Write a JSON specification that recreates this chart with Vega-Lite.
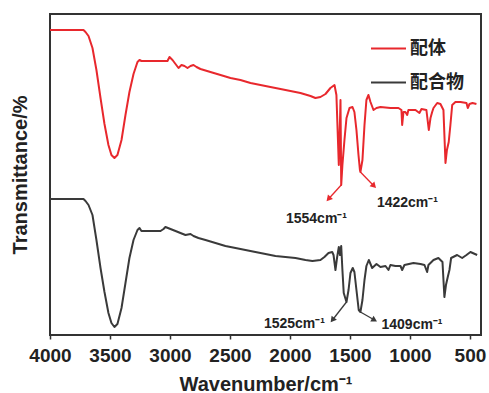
{
  "$schema": "https://vega.github.io/schema/vega-lite/v6.json",
  "width": 431,
  "height": 321,
  "autosize": {"type": "none"},
  "padding": {"left": 50, "top": 14, "right": 8, "bottom": 58},
  "background": "white",
  "config": {
    "view": {"stroke": "#333333", "strokeWidth": 2},
    "font": "Liberation Sans"
  },
  "datasets": {
    "ir": [
      {"series":"配体","wavenumber":4000,"transmittance":305},
      {"series":"配体","wavenumber":3721,"transmittance":305},
      {"series":"配体","wavenumber":3704,"transmittance":303},
      {"series":"配体","wavenumber":3679,"transmittance":299},
      {"series":"配体","wavenumber":3646,"transmittance":287},
      {"series":"配体","wavenumber":3613,"transmittance":265},
      {"series":"配体","wavenumber":3579,"transmittance":237},
      {"series":"配体","wavenumber":3546,"transmittance":211},
      {"series":"配体","wavenumber":3513,"transmittance":190},
      {"series":"配体","wavenumber":3488,"transmittance":180},
      {"series":"配体","wavenumber":3463,"transmittance":177},
      {"series":"配体","wavenumber":3438,"transmittance":180},
      {"series":"配体","wavenumber":3404,"transmittance":195},
      {"series":"配体","wavenumber":3371,"transmittance":220},
      {"series":"配体","wavenumber":3338,"transmittance":243},
      {"series":"配体","wavenumber":3304,"transmittance":261},
      {"series":"配体","wavenumber":3271,"transmittance":273},
      {"series":"配体","wavenumber":3254,"transmittance":275},
      {"series":"配体","wavenumber":3238,"transmittance":274},
      {"series":"配体","wavenumber":3163,"transmittance":274},
      {"series":"配体","wavenumber":3079,"transmittance":274},
      {"series":"配体","wavenumber":3021,"transmittance":274},
      {"series":"配体","wavenumber":3004,"transmittance":278},
      {"series":"配体","wavenumber":2979,"transmittance":275},
      {"series":"配体","wavenumber":2954,"transmittance":271},
      {"series":"配体","wavenumber":2929,"transmittance":267},
      {"series":"配体","wavenumber":2904,"transmittance":270},
      {"series":"配体","wavenumber":2879,"transmittance":269},
      {"series":"配体","wavenumber":2854,"transmittance":267},
      {"series":"配体","wavenumber":2829,"transmittance":269},
      {"series":"配体","wavenumber":2804,"transmittance":270},
      {"series":"配体","wavenumber":2779,"transmittance":268},
      {"series":"配体","wavenumber":2746,"transmittance":266},
      {"series":"配体","wavenumber":2663,"transmittance":263},
      {"series":"配体","wavenumber":2579,"transmittance":260},
      {"series":"配体","wavenumber":2496,"transmittance":257},
      {"series":"配体","wavenumber":2413,"transmittance":255},
      {"series":"配体","wavenumber":2329,"transmittance":252},
      {"series":"配体","wavenumber":2246,"transmittance":250},
      {"series":"配体","wavenumber":2163,"transmittance":248},
      {"series":"配体","wavenumber":2079,"transmittance":246},
      {"series":"配体","wavenumber":1996,"transmittance":244},
      {"series":"配体","wavenumber":1913,"transmittance":242},
      {"series":"配体","wavenumber":1829,"transmittance":239},
      {"series":"配体","wavenumber":1788,"transmittance":237},
      {"series":"配体","wavenumber":1746,"transmittance":238},
      {"series":"配体","wavenumber":1704,"transmittance":241},
      {"series":"配体","wavenumber":1663,"transmittance":247},
      {"series":"配体","wavenumber":1629,"transmittance":250},
      {"series":"配体","wavenumber":1613,"transmittance":240},
      {"series":"配体","wavenumber":1593,"transmittance":170},
      {"series":"配体","wavenumber":1583,"transmittance":215},
      {"series":"配体","wavenumber":1579,"transmittance":235},
      {"series":"配体","wavenumber":1573,"transmittance":150},
      {"series":"配体","wavenumber":1563,"transmittance":170},
      {"series":"配体","wavenumber":1546,"transmittance":195},
      {"series":"配体","wavenumber":1529,"transmittance":217},
      {"series":"配体","wavenumber":1504,"transmittance":227},
      {"series":"配体","wavenumber":1479,"transmittance":228},
      {"series":"配体","wavenumber":1463,"transmittance":223},
      {"series":"配体","wavenumber":1446,"transmittance":205},
      {"series":"配体","wavenumber":1429,"transmittance":180},
      {"series":"配体","wavenumber":1417,"transmittance":165},
      {"series":"配体","wavenumber":1413,"transmittance":163},
      {"series":"配体","wavenumber":1396,"transmittance":175},
      {"series":"配体","wavenumber":1379,"transmittance":210},
      {"series":"配体","wavenumber":1363,"transmittance":235},
      {"series":"配体","wavenumber":1346,"transmittance":240},
      {"series":"配体","wavenumber":1329,"transmittance":233},
      {"series":"配体","wavenumber":1304,"transmittance":225},
      {"series":"配体","wavenumber":1279,"transmittance":227},
      {"series":"配体","wavenumber":1246,"transmittance":228},
      {"series":"配体","wavenumber":1163,"transmittance":227},
      {"series":"配体","wavenumber":1096,"transmittance":227},
      {"series":"配体","wavenumber":1071,"transmittance":225},
      {"series":"配体","wavenumber":1065,"transmittance":210},
      {"series":"配体","wavenumber":1054,"transmittance":223},
      {"series":"配体","wavenumber":1038,"transmittance":223},
      {"series":"配体","wavenumber":1023,"transmittance":220},
      {"series":"配体","wavenumber":1013,"transmittance":225},
      {"series":"配体","wavenumber":954,"transmittance":225},
      {"series":"配体","wavenumber":921,"transmittance":222},
      {"series":"配体","wavenumber":904,"transmittance":226},
      {"series":"配体","wavenumber":863,"transmittance":225},
      {"series":"配体","wavenumber":843,"transmittance":205},
      {"series":"配体","wavenumber":829,"transmittance":217},
      {"series":"配体","wavenumber":815,"transmittance":223},
      {"series":"配体","wavenumber":804,"transmittance":227},
      {"series":"配体","wavenumber":773,"transmittance":232},
      {"series":"配体","wavenumber":746,"transmittance":231},
      {"series":"配体","wavenumber":721,"transmittance":225},
      {"series":"配体","wavenumber":713,"transmittance":200},
      {"series":"配体","wavenumber":704,"transmittance":172},
      {"series":"配体","wavenumber":692,"transmittance":185},
      {"series":"配体","wavenumber":677,"transmittance":193},
      {"series":"配体","wavenumber":663,"transmittance":210},
      {"series":"配体","wavenumber":648,"transmittance":230},
      {"series":"配体","wavenumber":621,"transmittance":233},
      {"series":"配体","wavenumber":579,"transmittance":233},
      {"series":"配体","wavenumber":529,"transmittance":232},
      {"series":"配体","wavenumber":518,"transmittance":227},
      {"series":"配体","wavenumber":504,"transmittance":231},
      {"series":"配体","wavenumber":479,"transmittance":232},
      {"series":"配体","wavenumber":446,"transmittance":231},
      {"series":"配合物","wavenumber":4000,"transmittance":136},
      {"series":"配合物","wavenumber":3721,"transmittance":136},
      {"series":"配合物","wavenumber":3704,"transmittance":134},
      {"series":"配合物","wavenumber":3679,"transmittance":130},
      {"series":"配合物","wavenumber":3646,"transmittance":120},
      {"series":"配合物","wavenumber":3613,"transmittance":95},
      {"series":"配合物","wavenumber":3579,"transmittance":67},
      {"series":"配合物","wavenumber":3546,"transmittance":43},
      {"series":"配合物","wavenumber":3513,"transmittance":22},
      {"series":"配合物","wavenumber":3488,"transmittance":12},
      {"series":"配合物","wavenumber":3463,"transmittance":8},
      {"series":"配合物","wavenumber":3438,"transmittance":11},
      {"series":"配合物","wavenumber":3404,"transmittance":27},
      {"series":"配合物","wavenumber":3371,"transmittance":52},
      {"series":"配合物","wavenumber":3338,"transmittance":77},
      {"series":"配合物","wavenumber":3304,"transmittance":95},
      {"series":"配合物","wavenumber":3271,"transmittance":105},
      {"series":"配合物","wavenumber":3254,"transmittance":107},
      {"series":"配合物","wavenumber":3238,"transmittance":104},
      {"series":"配合物","wavenumber":3163,"transmittance":104},
      {"series":"配合物","wavenumber":3079,"transmittance":104},
      {"series":"配合物","wavenumber":3054,"transmittance":106},
      {"series":"配合物","wavenumber":3038,"transmittance":108},
      {"series":"配合物","wavenumber":2996,"transmittance":106},
      {"series":"配合物","wavenumber":2954,"transmittance":104},
      {"series":"配合物","wavenumber":2913,"transmittance":102},
      {"series":"配合物","wavenumber":2871,"transmittance":100},
      {"series":"配合物","wavenumber":2829,"transmittance":101},
      {"series":"配合物","wavenumber":2804,"transmittance":99},
      {"series":"配合物","wavenumber":2763,"transmittance":97},
      {"series":"配合物","wavenumber":2704,"transmittance":95},
      {"series":"配合物","wavenumber":2621,"transmittance":92},
      {"series":"配合物","wavenumber":2538,"transmittance":89},
      {"series":"配合物","wavenumber":2454,"transmittance":87},
      {"series":"配合物","wavenumber":2371,"transmittance":85},
      {"series":"配合物","wavenumber":2288,"transmittance":83},
      {"series":"配合物","wavenumber":2204,"transmittance":81},
      {"series":"配合物","wavenumber":2121,"transmittance":79},
      {"series":"配合物","wavenumber":2038,"transmittance":78},
      {"series":"配合物","wavenumber":1954,"transmittance":77},
      {"series":"配合物","wavenumber":1871,"transmittance":75},
      {"series":"配合物","wavenumber":1813,"transmittance":74},
      {"series":"配合物","wavenumber":1746,"transmittance":75},
      {"series":"配合物","wavenumber":1713,"transmittance":78},
      {"series":"配合物","wavenumber":1679,"transmittance":82},
      {"series":"配合物","wavenumber":1648,"transmittance":83},
      {"series":"配合物","wavenumber":1637,"transmittance":80},
      {"series":"配合物","wavenumber":1621,"transmittance":65},
      {"series":"配合物","wavenumber":1608,"transmittance":77},
      {"series":"配合物","wavenumber":1593,"transmittance":88},
      {"series":"配合物","wavenumber":1583,"transmittance":80},
      {"series":"配合物","wavenumber":1573,"transmittance":89},
      {"series":"配合物","wavenumber":1563,"transmittance":65},
      {"series":"配合物","wavenumber":1552,"transmittance":42},
      {"series":"配合物","wavenumber":1529,"transmittance":33},
      {"series":"配合物","wavenumber":1512,"transmittance":45},
      {"series":"配合物","wavenumber":1496,"transmittance":62},
      {"series":"配合物","wavenumber":1477,"transmittance":67},
      {"series":"配合物","wavenumber":1463,"transmittance":63},
      {"series":"配合物","wavenumber":1446,"transmittance":45},
      {"series":"配合物","wavenumber":1427,"transmittance":25},
      {"series":"配合物","wavenumber":1413,"transmittance":23},
      {"series":"配合物","wavenumber":1396,"transmittance":35},
      {"series":"配合物","wavenumber":1379,"transmittance":55},
      {"series":"配合物","wavenumber":1363,"transmittance":69},
      {"series":"配合物","wavenumber":1343,"transmittance":75},
      {"series":"配合物","wavenumber":1329,"transmittance":71},
      {"series":"配合物","wavenumber":1315,"transmittance":67},
      {"series":"配合物","wavenumber":1279,"transmittance":71},
      {"series":"配合物","wavenumber":1246,"transmittance":68},
      {"series":"配合物","wavenumber":1204,"transmittance":69},
      {"series":"配合物","wavenumber":1179,"transmittance":65},
      {"series":"配合物","wavenumber":1163,"transmittance":70},
      {"series":"配合物","wavenumber":1121,"transmittance":69},
      {"series":"配合物","wavenumber":1079,"transmittance":69},
      {"series":"配合物","wavenumber":1065,"transmittance":65},
      {"series":"配合物","wavenumber":1046,"transmittance":70},
      {"series":"配合物","wavenumber":971,"transmittance":72},
      {"series":"配合物","wavenumber":912,"transmittance":71},
      {"series":"配合物","wavenumber":879,"transmittance":70},
      {"series":"配合物","wavenumber":857,"transmittance":63},
      {"series":"配合物","wavenumber":846,"transmittance":70},
      {"series":"配合物","wavenumber":804,"transmittance":75},
      {"series":"配合物","wavenumber":763,"transmittance":77},
      {"series":"配合物","wavenumber":729,"transmittance":73},
      {"series":"配合物","wavenumber":713,"transmittance":38},
      {"series":"配合物","wavenumber":700,"transmittance":50},
      {"series":"配合物","wavenumber":685,"transmittance":58},
      {"series":"配合物","wavenumber":671,"transmittance":65},
      {"series":"配合物","wavenumber":657,"transmittance":77},
      {"series":"配合物","wavenumber":607,"transmittance":80},
      {"series":"配合物","wavenumber":565,"transmittance":77},
      {"series":"配合物","wavenumber":529,"transmittance":80},
      {"series":"配合物","wavenumber":496,"transmittance":83},
      {"series":"配合物","wavenumber":440,"transmittance":80}
    ],
    "ann": [
      {"series":"配体","label":"1554cm⁻¹","x1":1573,"y1":150,"x2":1679,"y2":136,"tx":1779,"ty":116},
      {"series":"配体","label":"1422cm⁻¹","x1":1413,"y1":163,"x2":1300,"y2":149,"tx":1021,"ty":132},
      {"series":"配合物","label":"1525cm⁻¹","x1":1529,"y1":33,"x2":1646,"y2":15,"tx":1963,"ty":11},
      {"series":"配合物","label":"1409cm⁻¹","x1":1413,"y1":23,"x2":1296,"y2":15,"tx":983,"ty":10}
    ]
  },
  "layer": [
    {
      "data": {"name": "ir"},
      "mark": {"type": "line", "strokeWidth": 2, "strokeJoin": "round"},
      "encoding": {
        "x": {
          "field": "wavenumber", "type": "quantitative",
          "scale": {"domain": [408, 4000], "reverse": true, "nice": false, "zero": false},
          "axis": {
            "values": [4000,3750,3500,3250,3000,2750,2500,2250,2000,1750,1500,1250,1000,750,500],
            "format": "d",
            "labelExpr": "datum.value % 500 === 0 ? datum.label : ''",
            "labelOverlap": false,
            "labelFlush": false,
            "grid": false,
            "domain": false,
            "tickSize": 4,
            "tickWidth": 1.5,
            "tickColor": "#333333",
            "labelFont": "Liberation Sans",
            "labelFontSize": 19,
            "labelFontWeight": "bold",
            "labelColor": "#222222",
            "labelPadding": 7,
            "title": "Wavenumber/cm⁻¹",
            "titleFont": "Liberation Sans",
            "titleFontSize": 20,
            "titleFontWeight": "bold",
            "titleColor": "#222222",
            "titlePadding": 9
          }
        },
        "y": {
          "field": "transmittance", "type": "quantitative",
          "scale": {"domain": [0, 321], "nice": false, "zero": false},
          "axis": {
            "labels": false, "ticks": false, "domain": false, "grid": false,
            "title": "Transmittance/%",
            "titleFont": "Liberation Sans",
            "titleFontSize": 20,
            "titleFontWeight": "bold",
            "titleColor": "#222222",
            "titlePadding": 20
          }
        },
        "color": {
          "field": "series", "type": "nominal",
          "scale": {"domain": ["配体", "配合物"], "range": ["#e8282d", "#3a3a3a"]},
          "legend": {
            "orient": "none", "legendX": 320, "legendY": 16,
            "title": null,
            "symbolType": "stroke", "symbolSize": 1225, "symbolStrokeWidth": 2,
            "labelFont": "Noto Sans CJK SC", "labelFontSize": 18, "labelFontWeight": "bold",
            "labelColor": "#222222", "labelOffset": 3, "rowPadding": 6, "padding": 0
          }
        }
      }
    },
    {
      "data": {"name": "ann"},
      "mark": {"type": "rule", "strokeWidth": 1.3},
      "encoding": {
        "x": {"field": "x1", "type": "quantitative"},
        "y": {"field": "y1", "type": "quantitative"},
        "x2": {"field": "x2"},
        "y2": {"field": "y2"},
        "color": {"condition": {"test": "datum.series === '配体'", "value": "#e8282d"}, "value": "#3a3a3a"}
      }
    },
    {
      "data": {"name": "ann"},
      "mark": {"type": "point", "shape": "triangle-up", "filled": true, "size": 45, "opacity": 1, "strokeWidth": 0},
      "encoding": {
        "x": {"field": "x2", "type": "quantitative"},
        "y": {"field": "y2", "type": "quantitative"},
        "angle": {
          "condition": [
            {"test": "datum.label === '1554cm⁻¹'", "value": 222},
            {"test": "datum.label === '1422cm⁻¹'", "value": 136},
            {"test": "datum.label === '1525cm⁻¹'", "value": 218}
          ],
          "value": 120
        },
        "color": {"condition": {"test": "datum.series === '配体'", "value": "#e8282d"}, "value": "#3a3a3a"}
      }
    },
    {
      "data": {"name": "ann"},
      "mark": {"type": "text", "font": "Liberation Sans", "fontSize": 14, "fontWeight": "bold", "align": "center", "baseline": "middle"},
      "encoding": {
        "x": {"field": "tx", "type": "quantitative"},
        "y": {"field": "ty", "type": "quantitative"},
        "text": {"field": "label"},
        "color": {"value": "#222222"}
      }
    }
  ]
}
